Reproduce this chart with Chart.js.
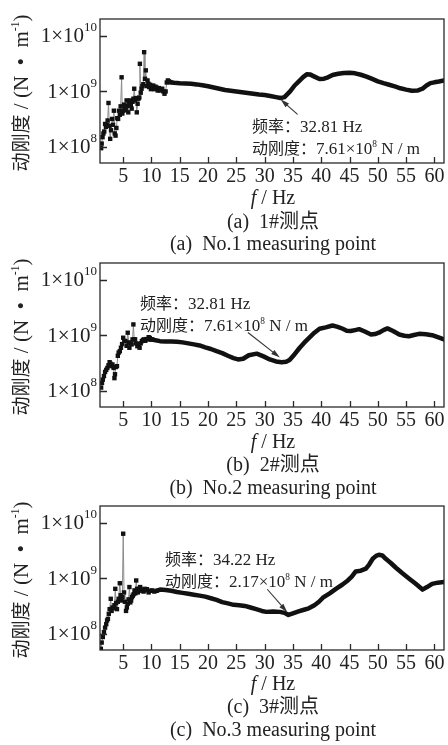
<!DOCTYPE html>
<html lang="zh">
<head>
<meta charset="UTF-8">
<script src="https://cdn.jsdelivr.net/npm/chart.js"></script>
<style>
  body { margin: 0; background: #fff; }
  #page { position: relative; width: 448px; height: 745px; overflow: hidden;
          font-family: "Liberation Serif", "Noto Sans CJK SC", serif; color: #222; }
  canvas.plot { position: absolute; left: 0; }
  .cjk { font-family: "Noto Sans CJK SC", sans-serif; }
  .ytitle { position: absolute; width: 200px; height: 24px; line-height: 24px; text-align: center;
            font-size: 21px; white-space: nowrap; transform: rotate(-90deg); }
  .ytitle .cjk { font-size: 19px; }
  .cap { position: absolute; left: 100px; width: 346px; text-align: center; font-size: 20px;
         line-height: 22px; white-space: nowrap; }
  .note { position: absolute; font-size: 17px; line-height: 20px; white-space: nowrap; }
  .note .cjk { font-size: 16px; }
  sup { font-size: 0.55em; vertical-align: 0.75em; line-height: 0; }
</style>
<title>动刚度</title>
</head>
<body>
<div id="page">
  <canvas id="c1" class="plot" width="448" height="190" style="top:0px"></canvas>
  <canvas id="c2" class="plot" width="448" height="190" style="top:244px"></canvas>
  <canvas id="c3" class="plot" width="448" height="190" style="top:487px"></canvas>

  <div class="ytitle" style="left:-80px; top:81px"><span class="cjk">动刚度</span>&nbsp;/&nbsp;(N&nbsp;&nbsp;•&nbsp;&nbsp;m<sup>-1</sup>)</div>
  <div class="ytitle" style="left:-80px; top:325px"><span class="cjk">动刚度</span>&nbsp;/&nbsp;(N&nbsp;&nbsp;•&nbsp;&nbsp;m<sup>-1</sup>)</div>
  <div class="ytitle" style="left:-80px; top:568px"><span class="cjk">动刚度</span>&nbsp;/&nbsp;(N&nbsp;&nbsp;•&nbsp;&nbsp;m<sup>-1</sup>)</div>

  <div class="note" style="left:252px; top:115px"><span class="cjk">频率：</span>32.81 Hz<br><span class="cjk">动刚度：</span>7.61×10<sup>8</sup> N / m</div>
  <div class="note" style="left:140px; top:292px"><span class="cjk">频率：</span>32.81 Hz<br><span class="cjk">动刚度：</span>7.61×10<sup>8</sup> N / m</div>
  <div class="note" style="left:165px; top:548px"><span class="cjk">频率：</span>34.22 Hz<br><span class="cjk">动刚度：</span>2.17×10<sup>8</sup> N / m</div>

  <div class="cap" style="top:186px"><i>f</i> / Hz</div>
  <div class="cap" style="top:209px">(a)&nbsp; 1#<span class="cjk">测点</span></div>
  <div class="cap" style="top:232px">(a)&nbsp; No.1 measuring point</div>

  <div class="cap" style="top:430px"><i>f</i> / Hz</div>
  <div class="cap" style="top:452px">(b)&nbsp; 2#<span class="cjk">测点</span></div>
  <div class="cap" style="top:476px">(b)&nbsp; No.2 measuring point</div>

  <div class="cap" style="top:672px"><i>f</i> / Hz</div>
  <div class="cap" style="top:694px">(c)&nbsp; 3#<span class="cjk">测点</span></div>
  <div class="cap" style="top:718px">(c)&nbsp; No.3 measuring point</div>
</div>
<script>
// frequency in Hz, dynamic stiffness in units of 1e8 N/m
const freq1 = [1.1, 1.2, 1.35, 1.5, 1.65, 1.8, 1.95, 2.1, 2.25, 2.4, 2.55, 2.7, 2.85, 3.05, 3.2, 3.35, 3.5, 3.65, 3.8, 3.95,
  4.1, 4.25, 4.4, 4.55, 4.72, 4.85, 5.0, 5.15, 5.3, 5.45, 5.6, 5.75, 5.9, 6.05, 6.2, 6.35, 6.5, 6.65, 6.8, 6.95,
  7.1, 7.25, 7.4, 7.55, 7.7, 7.85, 7.95, 8.1, 8.25, 8.4, 8.55, 8.7, 8.85, 9.0, 9.15, 9.3, 9.45, 9.6, 9.75, 9.9,
  10.1, 10.3, 10.5, 10.7, 10.9, 11.1, 11.3, 11.5, 11.7, 11.9, 12.1, 12.3, 12.5, 12.7, 12.9, 13.1, 13.3,
  14, 15, 16, 17, 18, 19, 20, 21, 22, 23, 24, 25, 26, 27, 28, 29, 30, 31, 32, 32.8, 33.5, 34.5, 35.3, 36, 36.8,
  37.5, 38, 38.8, 39.7, 40.5, 41.2, 42, 43, 44, 45, 46, 47, 48, 49, 50, 51, 52, 53, 54, 55, 56, 57, 57.9, 58.6,
  59.3, 60, 60.8, 61.7];
const stiff1 = [0.95, 1.15, 1.5, 1.75, 1.9, 2.6, 2.3, 2.5, 3.0, 6.2, 2.4, 1.4, 2.0, 3.2, 2.5, 4.5, 1.75, 1.6, 2.2, 3.3,
  3.2, 4.5, 3.8, 5.4, 18, 4.0, 4.5, 5.8, 5.2, 4.6, 6.9, 5.5, 4.2, 6.3, 6.9, 5.6, 4.9, 6.5, 7.4, 11.2,
  6.9, 7.6, 4.2, 6.0, 7.4, 7.8, 31.5, 9.5, 11.2, 12.5, 13.5, 51, 16.9, 24, 12.5, 15.8, 13.8, 12.0, 13.2, 11.0,
  11.2, 12.8, 11.0, 12.2, 11.7, 10.4, 11.5, 10.4, 11.0, 11.2, 10.0, 9.1, 10.0, 14.5, 15.8, 15.2, 14.7,
  14.3, 14.0, 13.9, 13.8, 13.4, 12.9, 12.4, 11.8, 11.2, 10.6, 10.3, 10.0, 9.7, 9.4, 9.1, 8.8, 8.6, 8.3, 7.9, 7.6,
  7.9, 10.0, 12.8, 15.0, 18.1, 20.5, 20.3, 18.5, 16.7, 17.0, 18.0, 19.8, 20.8, 21.5, 21.7, 21.2, 20.0, 18.5, 16.8,
  15.2, 14.1, 13.2, 12.3, 11.4, 10.8, 10.3, 10.4, 11.2, 12.8, 14.1, 14.6, 15.1, 15.8];

const freq2 = [1.1, 1.25, 1.4, 1.6, 1.8, 2.0, 2.2, 2.4, 2.6, 2.75, 2.9, 3.1, 3.3, 3.45, 3.55, 3.7, 3.9, 4.05, 4.2, 4.4,
  4.6, 4.8, 5.0, 5.2, 5.4, 5.6, 5.8, 6.0, 6.1, 6.3, 6.5, 6.65, 6.8, 6.95, 7.1, 7.3, 7.5, 7.7, 7.9, 8.1,
  8.3, 8.5, 8.7, 8.9, 9.1, 9.3, 9.5, 9.7, 9.9, 10.1,
  10.5, 11.5, 12.5, 13.5, 14.5, 15.5, 16.5, 17.5, 18.5, 19.5, 20.5, 21.5, 22.5, 23.5, 24.5, 25.3, 26.2, 27.2, 28.6,
  29.8, 30.9, 32, 33, 33.8, 34.4, 35.3, 36.2, 37, 37.9, 38.8, 39.7, 40.8, 42, 42.9, 43.8, 44.5, 45.2, 46, 46.7,
  47.7, 48.8, 49.5, 50.2, 51, 51.7, 52.7, 53.8, 54.7, 55.5, 56.4, 57.3, 58.5, 59.6, 60.6, 61.7];
const stiff2 = [1.15, 1.4, 1.6, 1.85, 2.2, 2.4, 2.6, 2.9, 3.3, 3.1, 2.8, 3.0, 2.6, 1.7, 2.0, 2.7, 2.8, 4.3, 4.9, 5.2,
  6.0, 7.0, 9.1, 8.0, 7.9, 6.5, 11.2, 7.5, 6.0, 7.2, 6.9, 8.5, 15.8, 8.5, 8.5, 7.2, 6.4, 7.0, 6.0, 7.2,
  7.9, 8.3, 8.5, 8.0, 8.6, 8.5, 9.3, 9.0, 8.4, 8.5,
  8.3, 7.9, 7.8, 7.8, 7.7, 7.5, 7.2, 6.9, 6.6, 6.1, 5.7, 5.2, 4.8, 4.3, 3.9, 3.7, 3.8, 4.4, 4.7,
  4.2, 3.7, 3.4, 3.3, 3.35, 3.6, 4.6, 6.0, 7.4, 9.1, 11.2, 13.2, 14.0, 15.1, 14.3, 13.2, 12.2, 12.0, 12.5, 13.0,
  11.8, 10.4, 10.6, 11.2, 12.5, 13.4, 12.0, 10.4, 9.9, 9.7, 10.2, 10.7, 10.5, 10.1, 9.3, 8.5];

const freq3 = [1.05, 1.2, 1.4, 1.6, 1.8, 2.0, 2.15, 2.3, 2.45, 2.6, 2.8, 2.95, 3.1, 3.3, 3.45, 3.6, 3.75, 3.9, 4.05, 4.2,
  4.4, 4.55, 4.7, 4.85, 5.0, 5.15, 5.3, 5.5, 5.65, 5.8, 5.95, 6.1, 6.25, 6.4, 6.55, 6.7, 6.85, 7.0, 7.15, 7.3,
  7.45, 7.6, 7.8, 8.0, 8.2, 8.4, 8.6, 8.8, 9.0, 9.2, 9.5, 9.8, 10.1, 10.5, 10.9,
  11.5, 12.5, 13.5, 14.5, 15.5, 16.5, 17.5, 18.5, 19.5, 20.5, 21.5, 22.5, 23.5, 24.5, 25.5, 26.5, 27.5, 28.5, 29.5,
  30.3, 31.5, 32.7, 33.5, 34.2, 35, 36, 36.8, 37.8, 38.8, 39.6, 40.3, 41.5, 42.6, 43.7, 44.7, 45.4, 46.1, 47, 47.9,
  48.5, 49.1, 49.7, 50.2, 50.8, 51.4, 52.3, 53.2, 54.3, 55.5, 56.7, 57.9, 58.7, 59.6, 60.6, 61.7];
const stiff3 = [0.54, 0.7, 0.88, 1.08, 1.3, 1.5, 1.75, 1.87, 2.3, 2.8, 4.3, 2.6, 3.0, 2.9, 3.3, 6.5, 3.6, 2.8, 3.8, 4.3,
  8.2, 5.0, 4.0, 4.6, 64, 5.6, 3.8, 2.6, 3.0, 3.5, 4.2, 7.0, 3.7, 4.0, 4.6, 4.9, 5.2, 6.1, 5.4, 9.2,
  6.5, 5.6, 6.5, 7.0, 6.0, 6.3, 5.8, 6.5, 6.1, 6.4, 5.6, 6.0, 6.1, 5.8, 6.0,
  6.3, 6.2, 6.0, 5.7, 5.5, 5.3, 5.1, 4.9, 4.7, 4.4, 4.1, 3.75, 3.55, 3.35, 3.3, 3.2, 3.0, 2.8, 2.6,
  2.5, 2.55, 2.5, 2.4, 2.2, 2.35, 2.55, 2.7, 2.9, 3.3, 3.8, 4.5, 5.4, 6.5, 7.7, 9.2, 10.8, 13.4, 13.8, 15.0,
  18.0, 22.6, 25.5, 26.7, 26.0, 22.6, 19.0, 15.6, 12.5, 10.0, 8.0, 6.3, 7.0, 8.0, 8.4, 8.6];

const xTicks = [5, 10, 15, 20, 25, 30, 35, 40, 45, 50, 55, 60];
const yExponents = [8, 9, 10];

// draws the box, inward ticks, tick labels and the pointer arrow
const panelDeco = {
  id: 'panelDeco',
  afterDatasetsDraw(chart, args, opts) {
    const ctx = chart.ctx;
    const a = chart.chartArea;
    const xs = chart.scales.x, ys = chart.scales.y;
    ctx.save();
    ctx.strokeStyle = '#2a2a2a';
    ctx.lineWidth = 1.3;
    ctx.strokeRect(a.left, a.top, a.right - a.left, a.bottom - a.top);

    ctx.beginPath();
    xTicks.forEach(t => {
      const px = Math.round(xs.getPixelForValue(t)) + 0.5;
      ctx.moveTo(px, a.bottom); ctx.lineTo(px, a.bottom - 6);
    });
    yExponents.forEach(e => {
      const py = Math.round(ys.getPixelForValue(Math.pow(10, e))) + 0.5;
      ctx.moveTo(a.left, py); ctx.lineTo(a.left + 7, py);
    });
    ctx.stroke();

    ctx.fillStyle = '#222';
    ctx.textBaseline = 'middle';
    ctx.textAlign = 'center';
    ctx.font = '20px "Liberation Serif"';
    xTicks.forEach(t => ctx.fillText(String(t), xs.getPixelForValue(t), a.bottom + 14));

    ctx.textAlign = 'right';
    yExponents.forEach(e => {
      const py = ys.getPixelForValue(Math.pow(10, e));
      ctx.font = '13px "Liberation Serif"';
      const sw = ctx.measureText(String(e)).width;
      ctx.fillText(String(e), a.left - 3, py - 8);
      ctx.font = '21px "Liberation Serif"';
      ctx.fillText('1×10', a.left - 3 - sw, py + 1);
    });

    // arrow pointing at the marked minimum
    const tx = xs.getPixelForValue(opts.f), ty = ys.getPixelForValue(opts.v * 1e8);
    const sx = tx + opts.dx, sy = ty + opts.dy;
    const ang = Math.atan2(ty - sy, tx - sx);
    ctx.strokeStyle = '#333';
    ctx.fillStyle = '#333';
    ctx.lineWidth = 1.1;
    ctx.beginPath();
    ctx.moveTo(sx, sy);
    ctx.lineTo(tx - 6 * Math.cos(ang), ty - 6 * Math.sin(ang));
    ctx.stroke();
    ctx.beginPath();
    ctx.moveTo(tx, ty);
    ctx.lineTo(tx - 9 * Math.cos(ang) + 2.6 * Math.sin(ang), ty - 9 * Math.sin(ang) - 2.6 * Math.cos(ang));
    ctx.lineTo(tx - 9 * Math.cos(ang) - 2.6 * Math.sin(ang), ty - 9 * Math.sin(ang) + 2.6 * Math.cos(ang));
    ctx.closePath();
    ctx.fill();
    ctx.restore();
  }
};

function makePanel(id, freq, stiff, markerEnd, arrow) {
  const points = freq.map((f, i) => ({ x: f, y: stiff[i] * 1e8 }));
  return new Chart(document.getElementById(id), {
    type: 'line',
    data: {
      datasets: [{
        data: points,
        borderColor: '#111',
        borderWidth: 4.5,
        borderJoinStyle: 'round',
        borderCapStyle: 'round',
        tension: 0,
        pointStyle: 'rect',
        pointRadius: ctx => (ctx.raw && ctx.raw.x <= markerEnd ? 3.1 : 0),
        pointBackgroundColor: '#111',
        pointBorderWidth: 0,
        segment: {
          borderColor: ctx => (ctx.p1.parsed.x <= markerEnd ? '#8c8c8c' : '#111'),
          borderWidth: ctx => (ctx.p1.parsed.x <= markerEnd ? 1 : 4.5)
        }
      }]
    },
    options: {
      responsive: false,
      animation: false,
      devicePixelRatio: 1,
      layout: { padding: { left: 100, right: 2, top: 19, bottom: 27 } },
      scales: {
        x: {
          type: 'linear', min: 0.9, max: 61.7,
          ticks: { display: false },
          grid: { display: false, drawTicks: false },
          border: { display: false }
        },
        y: {
          type: 'logarithmic', min: 5.14e7, max: 2.02e10,
          ticks: { display: false },
          grid: { display: false, drawTicks: false },
          border: { display: false }
        }
      },
      plugins: {
        legend: { display: false },
        tooltip: { enabled: false },
        panelDeco: arrow
      }
    },
    plugins: [panelDeco]
  });
}

makePanel('c1', freq1, stiff1, 13.3, { f: 32.81, v: 7.2, dx: 17, dy: 15 });
makePanel('c2', freq2, stiff2, 10.1, { f: 32.7, v: 4.0, dx: -32, dy: -25 });
makePanel('c3', freq3, stiff3, 10.9, { f: 34.0, v: 2.46, dx: -20, dy: -23 });
</script>
</body>
</html>
